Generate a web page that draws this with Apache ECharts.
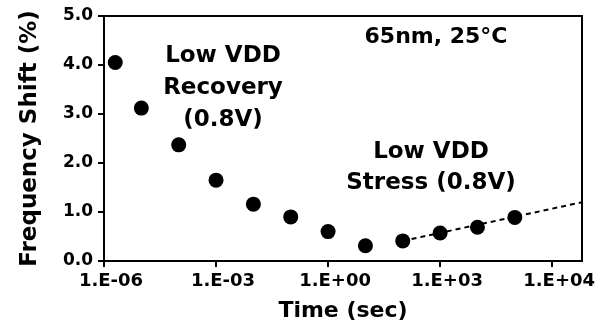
<!DOCTYPE html>
<html>
<head>
    <meta charset="utf-8" />
    <title>Frequency shift vs time</title>
    <script src="https://cdn.jsdelivr.net/npm/echarts@6/dist/echarts.min.js"></script>
    <style type="text/css">
        html, body { margin: 0; padding: 0; background: #fff; }
        #main { width: 609px; height: 333px; }
    </style>
</head>
<body>
    <div id="main"></div>
    <script>
        // measured points (time in sec, shift in %)
        var times = [2e-6, 1e-5, 1e-4, 1e-3, 1e-2, 1e-1, 1, 10, 100, 1000, 1e4, 1e5];
        var shifts = [4.05, 3.12, 2.37, 1.65, 1.16, 0.90, 0.60, 0.31, 0.41, 0.57, 0.69, 0.89];

        // stress trend line (dashed), from last recovery point to the right edge
        var trendTimes = [100, 6.3e6];
        var trendShifts = [0.41, 1.20];

        // x tick labels as printed on the original (exponent -> text)
        var tickExps = [-6, -3, 0, 3, 6];
        var tickLabels = ['1.E-06', '1.E-03', '1.E+00', '1.E+03', '1.E+04'];

        var font = 'DejaVu Sans';

        var chart = echarts.init(document.getElementById('main'));

        var option = {
            animation: false,
            backgroundColor: '#fff',
            grid: {
                left: 104, right: 27, top: 16, bottom: 72,
                show: true, borderColor: '#000', borderWidth: 2
            },
            xAxis: {
                type: 'log',
                logBase: 1000,
                min: 1e-6,
                max: 6.3e6,
                name: 'Time (sec)',
                nameLocation: 'middle',
                nameGap: 39,
                nameTextStyle: { fontFamily: font, fontWeight: 'bold', fontSize: 22, color: '#000' },
                axisLine: { lineStyle: { color: '#000', width: 2 } },
                axisTick: { length: 6, lineStyle: { color: '#000', width: 2 } },
                splitLine: { show: false },
                axisLabel: {
                    fontFamily: font, fontWeight: 'bold', fontSize: 18, color: '#000',
                    margin: 11,
                    padding: [0, 0, 0, 14],
                    showMaxLabel: false,
                    formatter: function (v) {
                        var lg = Math.log10(v);
                        var e = Math.round(lg);
                        if (Math.abs(lg - e) > 1e-6) return '';
                        var i = tickExps.indexOf(e);
                        return i < 0 ? '' : tickLabels[i];
                    }
                }
            },
            yAxis: {
                type: 'value',
                min: 0,
                max: 5,
                interval: 1,
                name: 'Frequency Shift (%)',
                nameLocation: 'middle',
                nameGap: 62,
                nameTextStyle: { fontFamily: font, fontWeight: 'bold', fontSize: 23, color: '#000' },
                axisLine: { show: true, lineStyle: { color: '#000', width: 2 } },
                axisTick: { show: true, length: 6, lineStyle: { color: '#000', width: 2 } },
                splitLine: { show: false },
                axisLabel: {
                    fontFamily: font, fontWeight: 'bold', fontSize: 17, color: '#000',
                    margin: 11,
                    formatter: function (v) { return v.toFixed(1); }
                }
            },
            graphic: [
                {
                    type: 'text',
                    style: {
                        x: 223, y: 88, text: 'Low VDD\nRecovery\n(0.8V)',
                        align: 'center', verticalAlign: 'middle', lineHeight: 32,
                        font: 'bold 23px "DejaVu Sans"', fill: '#000'
                    }
                },
                {
                    type: 'text',
                    style: {
                        x: 431, y: 168, text: 'Low VDD\nStress (0.8V)',
                        align: 'center', verticalAlign: 'middle', lineHeight: 31,
                        font: 'bold 23px "DejaVu Sans"', fill: '#000'
                    }
                },
                {
                    type: 'text',
                    style: {
                        x: 436, y: 37, text: '65nm, 25°C',
                        align: 'center', verticalAlign: 'middle',
                        font: 'bold 22px "DejaVu Sans"', fill: '#000'
                    }
                }
            ],
            series: [
                {
                    type: 'line',
                    data: trendTimes.map(function (t, i) { return [t, trendShifts[i]]; }),
                    showSymbol: false,
                    symbol: 'none',
                    lineStyle: { color: '#000', width: 2, type: [5, 4] },
                    z: 1
                },
                {
                    type: 'scatter',
                    data: times.map(function (t, i) { return [t, shifts[i]]; }),
                    symbol: 'circle',
                    symbolSize: 15,
                    itemStyle: { color: '#000', opacity: 1 },
                    z: 2
                }
            ]
        };
        chart.setOption(option);
    </script>
</body>
</html>
